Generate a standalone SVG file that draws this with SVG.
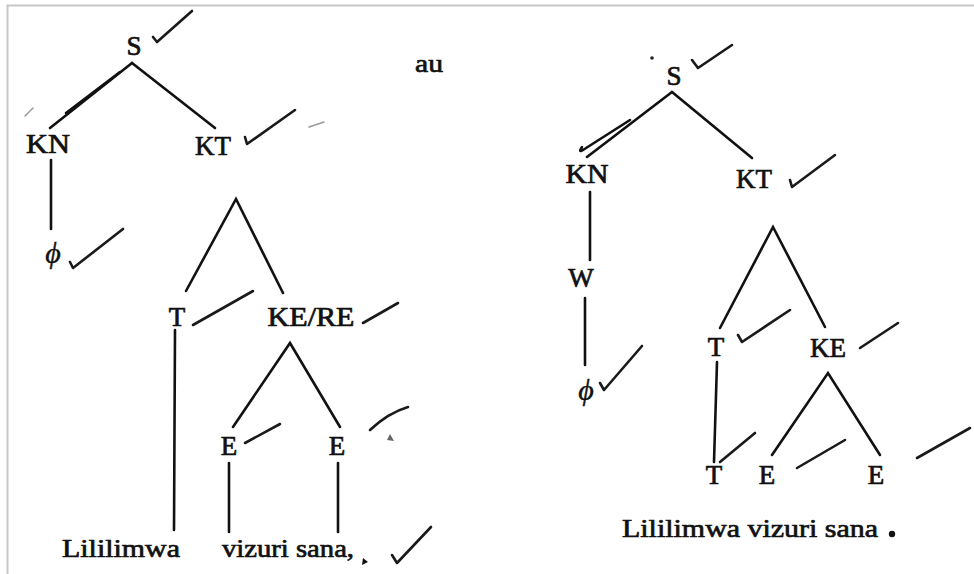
<svg xmlns="http://www.w3.org/2000/svg" width="974" height="574" viewBox="0 0 974 574">
<style>
  text { font-family: "Liberation Serif", Tinos, "Times New Roman", "DejaVu Serif", serif; }
  .lbl { font-size: 27px; fill: #111; stroke: #111; stroke-width: 0.7; text-anchor: middle; }
  .txt { font-size: 26px; fill: #111; stroke: #111; stroke-width: 0.7; }
  .phi { font-size: 30px; font-style: italic; fill: #111; stroke: #111; stroke-width: 0.4; text-anchor: middle; }
  .edge { stroke: #111; stroke-width: 2.6; fill: none; stroke-linecap: round; }
  .tick { stroke: #1a1a1a; stroke-width: 2.6; fill: none; stroke-linecap: round; stroke-linejoin: round; }
  .faint { stroke: #999; stroke-width: 1.5; fill: none; stroke-linecap: round; }
</style>
<rect x="0" y="0" width="974" height="574" fill="#ffffff"/>
<path d="M7.5 574 V5.5 H974" fill="none" stroke="#c8c8c8" stroke-width="2"/>

<!-- connectors -->
<g id="connectors">
  <!-- left tree -->
  <path class="edge" d="M132 63 L50 128"/>
  <path class="edge" d="M66 113 L120 72" stroke-width="3.5"/>
  <path class="edge" d="M132 63 L215 128"/>
  <path class="edge" d="M51 160 L51 229"/>
  <path class="edge" d="M186 291 L236 199 L283 293"/>
  <path class="edge" d="M175 330 L174 530"/>
  <path class="edge" d="M233 427 L290 343 L340 427"/>
  <path class="edge" d="M229 463 L229 532"/>
  <path class="edge" d="M338 463 L338 532"/>
  <!-- right tree -->
  <path class="edge" d="M672 92 L587 157"/>
  <path class="edge" d="M630 120 L583 150 Q578 153 582 147" stroke-width="2"/>
  <path class="edge" d="M672 92 L752 158"/>
  <path class="edge" d="M590 192 L590 260"/>
  <path class="edge" d="M585 298 L585 365"/>
  <path class="edge" d="M720 328 L773 227 L825 327"/>
  <path class="edge" d="M717 362 L714 462"/>
  <path class="edge" d="M772 455 L828 373 L880 455"/>
</g>

<!-- left tree nodes -->
<g id="L_S"><text class="lbl" x="134" y="55">S</text></g>
<g id="L_KN"><text class="lbl" x="48" y="153" textLength="44" lengthAdjust="spacingAndGlyphs">KN</text></g>
<g id="L_KT"><text class="lbl" x="213" y="155">KT</text></g>
<g id="L_phi"><text class="phi" x="53" y="263">ϕ</text></g>
<g id="L_T"><text class="lbl" x="177" y="326">T</text></g>
<g id="L_KERE"><text class="lbl" x="311" y="326" textLength="87" lengthAdjust="spacingAndGlyphs">KE/RE</text></g>
<g id="L_E1"><text class="lbl" x="229" y="455">E</text></g>
<g id="L_E2"><text class="lbl" x="337" y="455">E</text></g>
<g id="L_words1"><text class="txt" x="62" y="557" textLength="118" lengthAdjust="spacingAndGlyphs">Lililimwa</text></g>
<g id="L_words2"><text class="txt" x="222" y="557" textLength="132" lengthAdjust="spacingAndGlyphs">vizuri sana,</text></g>

<g id="au"><text class="txt" x="415" y="72" textLength="28" lengthAdjust="spacingAndGlyphs">au</text></g>

<!-- right tree nodes -->
<g id="R_S"><text class="lbl" x="674" y="85">S</text></g>
<g id="R_KN"><text class="lbl" x="587" y="183" textLength="43" lengthAdjust="spacingAndGlyphs">KN</text></g>
<g id="R_KT"><text class="lbl" x="754" y="188">KT</text></g>
<g id="R_W"><text class="lbl" x="581" y="287">W</text></g>
<g id="R_phi"><text class="phi" x="586" y="400">ϕ</text></g>
<g id="R_T"><text class="lbl" x="716" y="356">T</text></g>
<g id="R_KE"><text class="lbl" x="828" y="357">KE</text></g>
<g id="R_T2"><text class="lbl" x="714" y="484">T</text></g>
<g id="R_E1"><text class="lbl" x="767" y="484">E</text></g>
<g id="R_E2"><text class="lbl" x="876" y="484">E</text></g>
<g id="R_words"><text class="txt" x="622" y="537" textLength="256" lengthAdjust="spacingAndGlyphs">Lililimwa vizuri sana</text><circle cx="892" cy="534" r="3.2" fill="#111"/></g>

<!-- check marks -->
<g id="marks">
  <path class="tick" d="M153 37 L157 42 L192 11"/>
  <path class="tick" d="M245 137 L247 144 L295 110"/>
  <path class="faint" d="M309 127 L324 122"/>
  <path class="faint" d="M25 116 L33 108"/>
  <path class="tick" d="M70 262 L73 268 L123 229"/>
  <path class="tick" d="M193 325 L253 291"/>
  <path class="tick" d="M363 323 L398 303"/>
  <path class="tick" d="M245 443 L280 424"/>
  <path class="tick" d="M370 430 Q388 413 408 407"/>
  <polygon points="390,434 394,441 387,440" fill="#666"/>
  <polygon points="363,558 368,562 362,565" fill="#111"/>
  <path class="tick" d="M392 555 L397 563 L431 527"/>
  <path class="tick" d="M692 60 L698 68 L732 45"/>
  <circle cx="652" cy="58" r="1.8" fill="#222"/>
  <path class="tick" d="M790 180 L792 187 L835 155"/>
  <path class="tick" d="M600 383 L604 390 L642 346"/>
  <path class="tick" d="M738 335 L742 342 L790 310"/>
  <path class="tick" d="M860 348 L898 323"/>
  <path class="tick" d="M720 462 L755 433"/>
  <path class="tick" d="M797 468 L845 440"/>
  <path class="tick" d="M917 458 L970 428"/>
</g>
</svg>
